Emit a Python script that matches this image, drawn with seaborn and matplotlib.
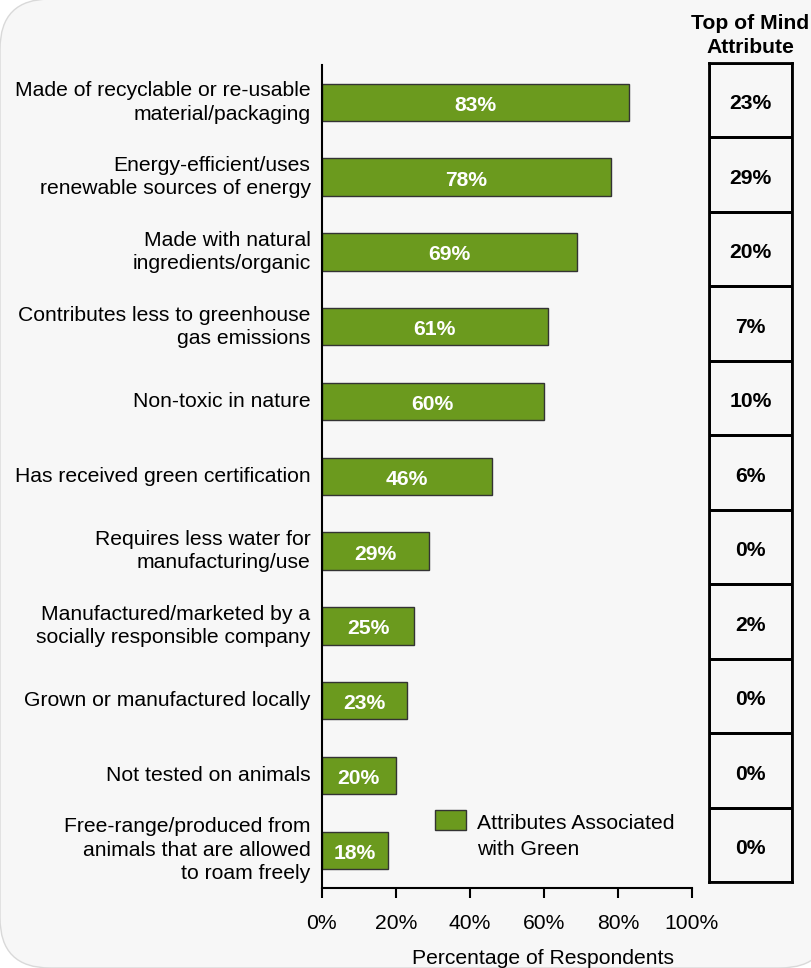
import numpy as np
import pandas as pd
import matplotlib
matplotlib.use("Agg")
import matplotlib.pyplot as plt
import seaborn as sns
from matplotlib.patches import FancyBboxPatch, Rectangle, Patch
from matplotlib.legend_handler import HandlerPatch

# --- chart data ---
attributes = [
    "Made of recyclable or re-usable\nmaterial/packaging",
    "Energy-efficient/uses\nrenewable sources of energy",
    "Made with natural\ningredients/organic",
    "Contributes less to greenhouse\ngas emissions",
    "Non-toxic in nature",
    "Has received green certification",
    "Requires less water for\nmanufacturing/use",
    "Manufactured/marketed by a\nsocially responsible company",
    "Grown or manufactured locally",
    "Not tested on animals",
    "Free-range/produced from\nanimals that are allowed\nto roam freely",
]
associated_pct = [83, 78, 69, 61, 60, 46, 29, 25, 23, 20, 18]
top_of_mind_pct = [23, 29, 20, 7, 10, 6, 0, 2, 0, 0, 0]
x_ticks = [0, 20, 40, 60, 80, 100]
x_tick_labels = ["0%", "20%", "40%", "60%", "80%", "100%"]

GREEN = "#6b9a1e"
FS = 15.2

sns.set_style("ticks")
plt.rcParams["font.family"] = ["Liberation Sans", "DejaVu Sans"]
plt.rcParams["text.color"] = "black"
plt.rcParams["axes.labelcolor"] = "black"
plt.rcParams["xtick.color"] = "black"
plt.rcParams["ytick.color"] = "black"

df = pd.DataFrame({"attribute": attributes, "pct": associated_pct})

W, H = 812, 968
fig = plt.figure(figsize=(W / 100, H / 100), dpi=100)
fig.patch.set_facecolor("white")

# rounded light grey panel behind everything
panel = FancyBboxPatch((0.0, 0.0), 8.3, H / 100 + 0.01, boxstyle="round,pad=0,rounding_size=0.5",
                       transform=fig.dpi_scale_trans, facecolor="#f7f7f7",
                       edgecolor="#d9d9d9", linewidth=1.0, zorder=-2)
fig.patches.append(panel)
fig.patches.append(Rectangle((7.0, 5.0), 1.4, 5.0, transform=fig.dpi_scale_trans,
                             facecolor="#f7f7f7", edgecolor="none", zorder=-1))

# main bar axes (pixel-based placement)
ax = fig.add_axes([321.7 / W, (H - 887.7) / H, 370.3 / W, 822.7 / H])
ax.set_facecolor("none")
sns.barplot(data=df, x="pct", y="attribute", orient="h", color=GREEN, saturation=1,
            width=0.5, edgecolor="#333333", linewidth=1.0, ax=ax)
ax.set_xlim(0, 100)
ax.set_ylim(len(attributes) - 0.5, -0.5)
ax.set_xticks(x_ticks)
ax.set_xticklabels(x_tick_labels, fontsize=FS)
ax.tick_params(axis="x", direction="out", length=7, width=1.5, pad=12, colors="black")
ax.tick_params(axis="y", length=0, pad=8, labelsize=FS, colors="black")
for lab in ax.get_yticklabels():
    lab.set_multialignment("right")
    lab.set_linespacing(1.3)
    lab.set_verticalalignment("center")
for side in ["top", "right"]:
    ax.spines[side].set_visible(False)
for side in ["left", "bottom"]:
    ax.spines[side].set_color("black")
    ax.spines[side].set_linewidth(1.5)
ax.set_ylabel("")
ax.set_xlabel("Percentage of Respondents", fontsize=FS)
ax.xaxis.set_label_coords(0.598, -0.075)

for i, v in enumerate(associated_pct):
    ax.text(v / 2, i + 0.04, f"{v}%", ha="center", va="center", color="white",
            fontsize=FS, fontweight="bold")


def top_aligned_patch(legend, orig_handle, xdescent, ydescent, width, height, fontsize):
    # put the swatch next to the first line of a two-line label
    return Rectangle((-xdescent, -ydescent + 0.8 * fontsize), width, height)


leg = ax.legend(handles=[Patch(facecolor=GREEN, edgecolor="#333333", linewidth=1.0,
                               label="Attributes Associated\nwith Green")],
                handler_map={Patch: HandlerPatch(patch_func=top_aligned_patch)},
                loc="upper left", bbox_to_anchor=(0.306, 0.0896), frameon=False,
                fontsize=FS, handlelength=1.48, handleheight=1.05, handletextpad=0.53,
                borderpad=0, borderaxespad=0)
for t in leg.get_texts():
    t.set_linespacing(1.45)

# top-of-mind table axes
ax2 = fig.add_axes([709 / W, (H - 882) / H, 83 / W, 819 / H])
ax2.set_facecolor("none")
rows = np.arange(len(top_of_mind_pct))
ax2.barh(rows, [1] * len(rows), height=1.0, left=0, fill=False, edgecolor="black",
         linewidth=2.0)
ax2.set_xlim(0, 1)
ax2.set_ylim(len(rows) - 0.5, -0.5)
ax2.set_xticks([])
ax2.set_yticks([])
for s in ax2.spines.values():
    s.set_color("black")
    s.set_linewidth(2.0)
for i, v in enumerate(top_of_mind_pct):
    ax2.text(0.5, i + 0.05, f"{v}%", ha="center", va="center", fontsize=FS,
             fontweight="bold", color="black")
ax2.set_title("Top of Mind\nAttribute", fontsize=FS, fontweight="bold", pad=7,
              linespacing=1.35)

fig.savefig("out.png", dpi=100, facecolor=fig.get_facecolor())
